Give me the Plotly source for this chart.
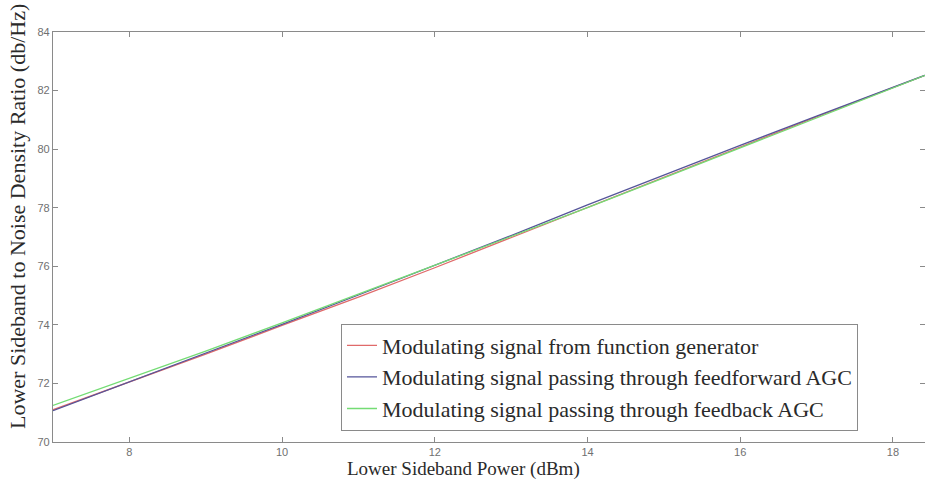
import plotly.graph_objects as go

# Lower sideband power sweep (dBm)
power_dbm = [7, 8, 9, 10, 11, 12, 13, 14, 15, 16, 17, 18, 18.5]

# Lower sideband to noise density ratio (dB/Hz) for each modulating source
ratio_func_gen = [71.10, 72.05, 73.00, 73.98, 74.95, 75.95, 76.98, 78.02, 79.05, 80.08, 81.10, 82.10, 82.60]
ratio_feedforward = [71.07, 72.05, 73.03, 74.02, 75.02, 76.03, 77.05, 78.10, 79.12, 80.13, 81.13, 82.12, 82.60]
ratio_feedback = [71.25, 72.18, 73.10, 74.07, 75.05, 76.02, 77.00, 78.00, 79.02, 80.05, 81.07, 82.09, 82.60]

series_names = [
    "Modulating signal from function generator",
    "Modulating signal passing through feedforward AGC",
    "Modulating signal passing through feedback AGC",
]
series_values = [ratio_func_gen, ratio_feedforward, ratio_feedback]
series_colors = ["#e06a6a", "#55559a", "#74dc74"]

x_ticks = [8, 10, 12, 14, 16, 18]
y_ticks = [70, 72, 74, 76, 78, 80, 82, 84]

x_title = "Lower Sideband Power (dBm)"
y_title = "Lower Sideband to Noise Density Ratio (db/Hz)"

serif = "Liberation Serif, Times New Roman, serif"

fig = go.Figure()
for name, vals, color in zip(series_names, series_values, series_colors):
    fig.add_trace(go.Scatter(
        x=power_dbm, y=vals, mode="lines", name=name,
        line=dict(color=color, width=1.3),
    ))

axis_common = dict(
    showline=True, linecolor="#8a8a8a", linewidth=1.3, mirror="ticks",
    ticks="inside", ticklen=5, tickcolor="#8a8a8a", tickwidth=1,
    showgrid=False, zeroline=False,
    tickfont=dict(family="Liberation Sans, Arial", size=11, color="#707070"),
)

W, H = 925, 483
ML, MR, MT, MB = 53, 0, 32, 41
PW, PH = W - ML - MR, H - MT - MB

fig.update_layout(
    width=W, height=H,
    margin=dict(l=ML, r=MR, t=MT, b=MB),
    paper_bgcolor="white", plot_bgcolor="white",
    showlegend=True,
    legend=dict(
        x=(341 - ML) / PW, xanchor="left",
        y=(H - MB - 377) / PH, yanchor="middle",
        bgcolor="white", bordercolor="#8a8a8a", borderwidth=1,
        font=dict(family=serif, size=22, color="#2a2a2a"),
        tracegroupgap=0, itemwidth=30,
    ),
    xaxis=dict(range=[7, 18.42], tickvals=x_ticks, **axis_common),
    yaxis=dict(range=[70, 84], tickvals=y_ticks, **axis_common),
    annotations=[
        dict(text=x_title, xref="paper", yref="paper",
             x=(463 - ML) / PW, y=-(469 - (H - MB)) / PH,
             xanchor="center", yanchor="middle", showarrow=False,
             font=dict(family=serif, size=19, color="#2a2a2a")),
        dict(text=y_title, xref="paper", yref="paper",
             x=-(ML - 18) / PW, y=(H - MB - 217) / PH,
             xanchor="center", yanchor="middle", showarrow=False, textangle=-90,
             font=dict(family=serif, size=22, color="#2a2a2a")),
    ],
)

fig.write_html("out.html")
